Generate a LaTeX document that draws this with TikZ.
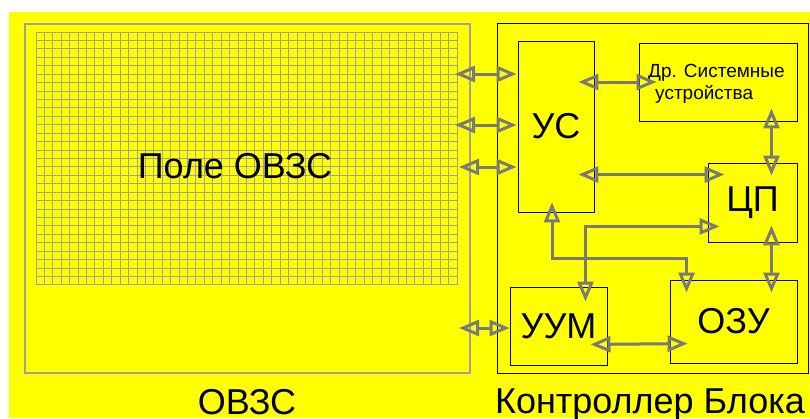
\documentclass[tikz,border=0pt]{standalone}
\usepackage{fontspec}
\setmainfont{Liberation Sans}
\usetikzlibrary{arrows.meta,calc}
\definecolor{bgyellow}{HTML}{FFFF00}
\definecolor{agray}{HTML}{7A7A7A}
\definecolor{ggray}{HTML}{A0A0A0}
\begin{document}
\begin{tikzpicture}[x=1pt,y=-1pt,
  box/.style={draw=black, line width=0.9pt, inner sep=0pt},
  frame/.style={draw=ggray, line width=1.2pt, inner sep=0pt},
  big/.style={font=\fontsize{36}{40}\selectfont},
  small/.style={font=\fontsize{19}{21}\selectfont, inner sep=0pt},
  gridline/.style={draw=ggray, line width=1pt},
  bi/.style={draw=agray, line width=3pt, line join=miter,
    {Triangle[open,length=20pt,width=16pt]}-{Triangle[open,length=20pt,width=16pt]}},
]
\useasboundingbox (0,0) rectangle (810,418);
\fill[bgyellow] (9,12) rectangle (810,418);

% OVZS frame and grid
\node[frame, minimum width=445pt, minimum height=349pt] (ovzs) at (247.5,198.5) {};
\foreach \i in {0,...,50} \draw[gridline] (36+\i*8.42,32) -- (36+\i*8.42,285);
\foreach \j in {0,...,30} \draw[gridline] (36,32+\j*8.433) -- (457,32+\j*8.433);
\node[big] (field) at (235,166) {Поле ОВЗС};
\node[big, anchor=base, inner sep=0pt] (ovzslabel) at (247,414) {ОВЗС};

% Controller
\node[box, minimum width=311pt, minimum height=350pt] (ctrl) at (653,198.5) {};
\node[big, anchor=base, inner sep=0pt] (ctrllabel) at (650,413) {Контроллер Блока};

\node[box, big, minimum width=76pt, minimum height=171pt] (us) at (556,126.5) {УС};
\node[box, minimum width=158pt, minimum height=78pt] (dr) at (718,82) {};
\node[small, anchor=base west] (dr1) at (648,77) {Др. Системные};
\node[small, anchor=base west] (dr2) at (655,99) {устройства};
\node[box, big, minimum width=89pt, minimum height=79pt] (cp) at (752.5,202.5) {ЦП};
\node[box, big, minimum width=97pt, minimum height=78pt] (uum) at (558.5,326) {УУМ};
\node[box, big, minimum width=127pt, minimum height=83pt] (ozu) at (733.5,321.5) {ОЗУ};

% free ends on the field side
\coordinate (l1) at (455,74);
\coordinate (l2) at (455,125);
\coordinate (l3) at (459,167);
\coordinate (l4) at (459,328);

\draw[bi] (l1) -- ([xshift=-1pt]us.west |- l1);
\draw[bi] (l2) -- ([xshift=-1pt]us.west |- l2);
\draw[bi] (l3) -- ([xshift=-1pt]us.west |- l3);
\draw[bi] (l4) -- (uum.west |- l4);

% internal connections
\draw[bi] ([xshift=-16pt]us.east |- dr.west) -- ([xshift=18pt]dr.west);
\coordinate (cpin) at ($(cp.north west)+(17,12)$);
\draw[bi] ([xshift=-16pt]us.east |- cpin) -- (cpin);
\draw[bi] ($(dr.south east)+(-26,-13)$) -- ($(cp.north east)+(-26,13)$);
\draw[bi] ($(cp.south east)+(-26,-17)$) -- ($(ozu.north east)+(-26,13)$);
\draw[bi] ($(uum.south east)+(-17,-21)$) -- ($(ozu.north west)+(18,64)$);

\coordinate (ozuin) at ($(ozu.north west)+(17,13)$);
\coordinate (usin) at ($(us.south)+(-4,-10)$);
\draw[bi] (usin) |- ($(ozuin)+(0,-34)$) -- (ozuin);

\coordinate (uumin) at ($(uum.north east)+(-22,15)$);
\coordinate (cpin2) at ($(cp.south west)+(12,-16)$);
\draw[bi] (uumin) |- (cpin2);
\end{tikzpicture}
\end{document}
